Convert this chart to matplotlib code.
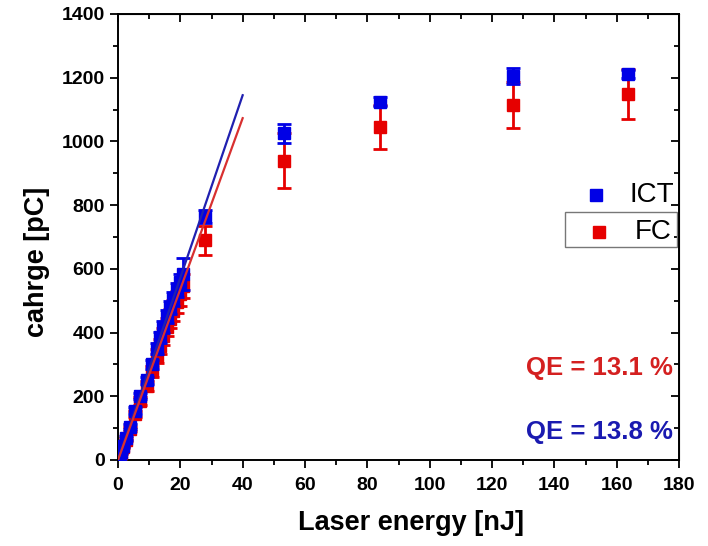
import numpy as np
import matplotlib
matplotlib.use('Agg')
from matplotlib import pyplot as plt
from matplotlib.patches import Rectangle

plt.rcParams['font.family'] = ['Liberation Sans', 'DejaVu Sans']

# ICT data
energy = [0.5, 1.0, 1.7, 2.5, 3.8, 5.4, 7.0, 9.2, 10.8, 12.4, 13.5, 14.5, 15.6,
          16.7, 17.7, 18.8, 19.9, 21.0, 27.8, 53.3, 84.2, 126.8, 163.7]
charge_ict = [12, 25, 45, 70, 105, 155, 200, 250, 300, 350, 385, 418, 450,
              478, 505, 535, 560, 585, 765, 1025, 1125, 1205, 1212]
err_ict = [3, 4, 5, 6, 8, 10, 10, 12, 14, 16, 17, 18, 20,
           20, 22, 22, 25, 50, 20, 30, 15, 25, 12]

# FC data
charge_fc = [11, 23, 41, 64, 97, 144, 186, 232, 278, 325, 357, 388, 418,
             444, 469, 497, 520, 545, 690, 940, 1045, 1115, 1148]
err_fc = [2, 3, 4, 5, 7, 10, 12, 15, 18, 22, 24, 26, 28,
          30, 32, 34, 36, 38, 45, 85, 70, 72, 78]

# linear fits
fit_x = [0, 40]
fit_ict = [0, 1145]
fit_fc = [0, 1073]

blue = '#0000e6'
red = '#e60000'

fig = plt.figure(figsize=(7.08, 5.46), dpi=100)
ax = fig.add_axes([118/708, 86/546, 561/708, 446/546])

ax.errorbar(energy, charge_fc, yerr=err_fc, fmt='s', color=red, ms=8.5,
            capsize=5, elinewidth=2, capthick=2, zorder=3)
ax.errorbar(energy, charge_ict, yerr=err_ict, fmt='s', color=blue, ms=8.5,
            capsize=5, elinewidth=2, capthick=2, zorder=4)
ax.plot(fit_x, fit_ict, color='#2020b0', lw=1.6, zorder=5)
ax.plot(fit_x, fit_fc, color='#d83030', lw=1.6, zorder=5)

ax.set_xlim(0, 180)
ax.set_ylim(0, 1400)
ax.set_xticks(np.arange(0, 181, 20))
ax.set_xticks(np.arange(0, 181, 10), minor=True)
ax.set_yticks(np.arange(0, 1401, 200))
ax.set_yticks(np.arange(0, 1401, 100), minor=True)
ax.tick_params(which='both', direction='out', width=1.3, labelsize=14)
ax.tick_params(axis='x', pad=6)
ax.tick_params(which='major', length=6)
ax.tick_params(which='minor', length=3.5)
for lab in ax.get_xticklabels() + ax.get_yticklabels():
    lab.set_fontweight('bold')
for s in ax.spines.values():
    s.set_linewidth(1.4)

# top and right ticks pointing inwards
top = ax.secondary_xaxis('top')
top.set_xticks(np.arange(0, 181, 20))
top.set_xticks(np.arange(0, 181, 10), minor=True)
top.tick_params(which='both', direction='in', labeltop=False, width=1.3)
top.tick_params(which='major', length=6)
top.tick_params(which='minor', length=3.5)
right = ax.secondary_yaxis('right')
right.set_yticks(np.arange(0, 1401, 200))
right.set_yticks(np.arange(0, 1401, 100), minor=True)
right.tick_params(which='both', direction='in', labelright=False, width=1.3)
right.tick_params(which='major', length=6)
right.tick_params(which='minor', length=3.5)

ax.set_xlabel('Laser energy [nJ]', fontsize=19.5, fontweight='bold', labelpad=12)
ax.set_ylabel('cahrge [pC]', fontsize=19.5, fontweight='bold', labelpad=8)
ax.xaxis.label.set_x(0.522)
ax.yaxis.label.set_y(0.444)

ax.text(131, 289, 'QE = 13.1 %', color='#d42020', fontsize=18.5, fontweight='bold',
        va='center')
ax.text(131, 88, 'QE = 13.8 %', color='#1a1ab0', fontsize=18.5, fontweight='bold',
        va='center')

# legend
ax.plot([0.852], [0.594], 's', color=blue, ms=9, transform=ax.transAxes, clip_on=False)
ax.text(0.912, 0.594, 'ICT', fontsize=20, va='center', transform=ax.transAxes)
ax.plot([0.858], [0.511], 's', color=red, ms=9, transform=ax.transAxes, clip_on=False)
ax.text(0.922, 0.511, 'FC', fontsize=20, va='center', transform=ax.transAxes)
ax.add_patch(Rectangle((0.797, 0.478), 0.2, 0.078, fill=False, ec='#777777',
                       lw=1.0, transform=ax.transAxes, clip_on=False))

fig.savefig('out.png', dpi=100)
